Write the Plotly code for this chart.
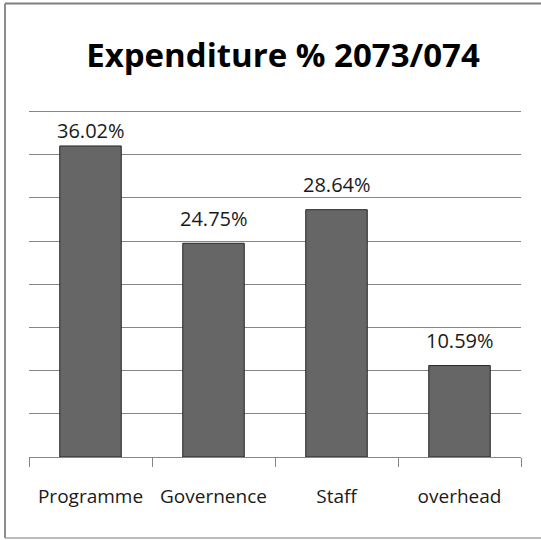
import plotly.graph_objects as go

categories = ["Programme", "Governence", "Staff", "overhead"]
values = [36.02, 24.75, 28.64, 10.59]
title_text = "Expenditure % 2073/074"

L, R, T, B = 29, 20, 109, 83
FIG_W, FIG_H = 541, 540
Y_MAX = 40.3
H = FIG_H - T - B
W = FIG_W - L - R
unit = H / Y_MAX

fig = go.Figure()
fig.add_trace(go.Bar(
    x=categories, y=values, width=0.5,
    marker=dict(color="#666666", line=dict(color="#262626", width=1)),
    hoverinfo="skip",
))

# value labels: ~25px above bar top, but never above the top of the plot area
for c, v in zip(categories, values):
    bar_top_from_top = H - v * unit
    label_center = max(bar_top_from_top - 25, 21)
    shift = bar_top_from_top - label_center
    fig.add_annotation(x=c, y=v, text=f"{v:.2f}%", showarrow=False,
                       yanchor="middle", yshift=shift,
                       font=dict(family="Open Sans", size=20, color="#1a1a1a"))

fig.update_layout(
    width=FIG_W, height=FIG_H,
    margin=dict(l=L, r=R, t=T, b=B),
    paper_bgcolor="white", plot_bgcolor="white",
    showlegend=False,
    title=dict(text=f"<b>{title_text}</b>", x=283 / FIG_W, xref="container", xanchor="center",
               y=0.898, yref="container", yanchor="middle",
               font=dict(family="Open Sans", size=33, color="black")),
    xaxis=dict(showline=True, linecolor="#868686", linewidth=1,
               ticks="outside", tickson="boundaries", ticklen=9, tickcolor="#868686",
               ticklabelstandoff=22,
               tickfont=dict(family="Open Sans", size=19, color="#1a1a1a"),
               showgrid=False),
    yaxis=dict(range=[0, Y_MAX], dtick=5, showticklabels=False, showgrid=True,
               gridcolor="#868686", gridwidth=1, zeroline=False, showline=False),
)

# chart border (top, left, bottom)
y_top = (FIG_H - B - 3.5) / H
y_bot = (FIG_H - B - 538) / H
x_left = (5 - L) / W
x_right = (FIG_W - L) / W
fig.add_shape(type="line", xref="paper", yref="paper", x0=x_left, x1=x_right, y0=y_top, y1=y_top,
              line=dict(color="#7f7f7f", width=2), layer="above")
fig.add_shape(type="line", xref="paper", yref="paper", x0=x_left, x1=x_left, y0=y_top, y1=y_bot,
              line=dict(color="#8c8c8c", width=2), layer="above")
fig.add_shape(type="line", xref="paper", yref="paper", x0=x_left, x1=x_right, y0=y_bot, y1=y_bot,
              line=dict(color="#a6a6a6", width=1.5), layer="above")

fig.write_html("out.html", config={"displayModeBar": False},
               post_script="document.body.style.margin='0px';document.body.style.overflow='hidden';")
